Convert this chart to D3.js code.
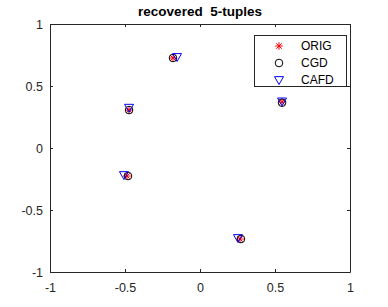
<!DOCTYPE html>
<html>
<head>
<meta charset="utf-8">
<script src="https://cdn.jsdelivr.net/npm/d3@7"></script>
<style>
  body { margin: 0; background: #fff; }
  text { font-family: "Liberation Sans", Arial, sans-serif; }
</style>
</head>
<body>
<svg id="chart" width="388" height="307"></svg>
<script>
// points
const origPts = [[-0.18, 0.726], [-0.473, 0.306], [-0.487, -0.226], [0.267, -0.734], [0.547, 0.371]];
const cgdPts  = [[-0.18, 0.726], [-0.473, 0.306], [-0.48, -0.226], [0.273, -0.734], [0.547, 0.365]];
const cafdPts = [[-0.153, 0.734], [-0.473, 0.325], [-0.507, -0.218], [0.253, -0.726], [0.547, 0.376]];
const xTicks = [-1, -0.5, 0, 0.5, 1];
const yTicks = [-1, -0.5, 0, 0.5, 1];
const legendNames = ["ORIG", "CGD", "CAFD"];

const W = 388, H = 307;
const mLeft = 50, mRight = 350, mTop = 24, mBottom = 272;

let svg = d3.select("#chart");
svg.append("rect").attr("width", W).attr("height", H).attr("fill", "#fff");

let x = d3.scaleLinear().domain([-1, 1]).range([mLeft, mRight]);
let y = d3.scaleLinear().domain([-1, 1]).range([mBottom, mTop]);

// axes, ticks inward like matlab
let fmt = d => String(d);
svg.append("g").attr("transform", `translate(0,${mBottom})`)
   .call(d3.axisBottom(x).tickValues(xTicks).tickSizeInner(-3).tickSizeOuter(0).tickPadding(11).tickFormat(fmt));
svg.append("g").attr("transform", `translate(${mLeft},0)`)
   .call(d3.axisLeft(y).tickValues(yTicks).tickSizeInner(-3).tickSizeOuter(0).tickPadding(7).tickFormat(fmt));
svg.append("g").attr("transform", `translate(0,${mTop})`)
   .call(d3.axisTop(x).tickValues(xTicks).tickSizeInner(-3).tickSizeOuter(0).tickFormat(""));
svg.append("g").attr("transform", `translate(${mRight},0)`)
   .call(d3.axisRight(y).tickValues(yTicks).tickSizeInner(-3).tickSizeOuter(0).tickFormat(""));

svg.selectAll(".domain").attr("stroke", "#262626");
svg.selectAll(".tick line").attr("stroke", "#262626");
svg.selectAll(".tick text").attr("fill", "#262626").style("font-size", "12.5px")
   .style("font-family", "'Liberation Sans', Arial, sans-serif");

// title
svg.append("text").attr("x", (mLeft + mRight) / 2).attr("y", 16)
   .attr("text-anchor", "middle").style("font-size", "13.5px").style("font-weight", "bold")
   .attr("fill", "#000").style("white-space", "pre").text("recovered  5-tuples");

// marker drawers
function star(g, cx, cy) {
    let r = 3.8;
    let p = g.append("g").attr("transform", `translate(${cx},${cy})`)
        .attr("stroke", "#ff0000").attr("stroke-width", 1);
    p.append("line").attr("x1", -r).attr("x2", r);
    p.append("line").attr("y1", -r).attr("y2", r);
    let d = r * 0.72;
    p.append("line").attr("x1", -d).attr("y1", -d).attr("x2", d).attr("y2", d);
    p.append("line").attr("x1", -d).attr("y1", d).attr("x2", d).attr("y2", -d);
}
function circ(g, cx, cy) {
    g.append("circle").attr("cx", cx).attr("cy", cy).attr("r", 3.8)
     .attr("fill", "none").attr("stroke", "#000").attr("stroke-width", 1);
}
function tri(g, cx, cy) {
    let s = 4.5;
    g.append("path").attr("d", `M${cx - s},${cy - s * 0.75}L${cx + s},${cy - s * 0.75}L${cx},${cy + s}Z`)
     .attr("fill", "none").attr("stroke", "#0000ff").attr("stroke-width", 1);
}

let marks = svg.append("g");
origPts.forEach(d => star(marks, x(d[0]), y(d[1])));
cgdPts.forEach(d => circ(marks, x(d[0]), y(d[1])));
cafdPts.forEach(d => tri(marks, x(d[0]), y(d[1])));

// legend
let lg = svg.append("g");
lg.append("rect").attr("x", 254.5).attr("y", 35.5).attr("width", 92).attr("height", 51)
  .attr("fill", "#fff").attr("stroke", "#262626").attr("stroke-width", 1);
let drawers = [star, circ, tri];
legendNames.forEach((name, i) => {
    let yy = 46 + i * 17;
    drawers[i](lg, 279, yy);
    lg.append("text").attr("x", 301).attr("y", yy + 4.3).style("font-size", "12px")
      .attr("fill", "#000").text(name);
});
</script>
</body>
</html>
